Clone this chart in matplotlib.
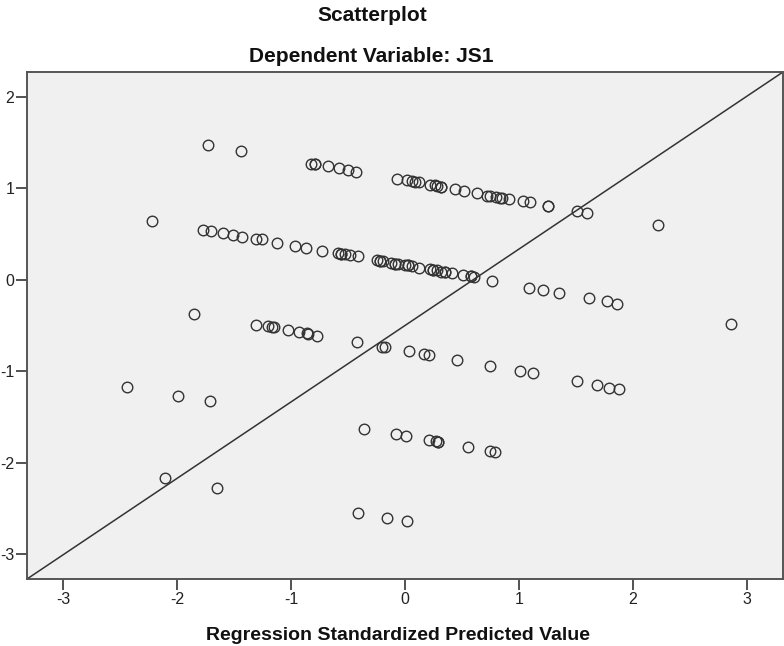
import matplotlib
matplotlib.use("Agg")
import matplotlib.pyplot as plt

# -----------------------------
# Data read off the SPSS scatterplot
# -----------------------------
# top band (around +1.0 .. +1.5)
band1_x = [-1.73, -1.44, -0.83, -0.79, -0.79, -0.68, -0.58, -0.50, -0.43,
           -0.07, 0.015, 0.06, 0.09, 0.125, 0.22, 0.26, 0.28, 0.32, 0.32,
           0.44, 0.52, 0.63, 0.72, 0.75, 0.80, 0.83, 0.85, 0.915, 1.04,
           1.10, 1.26, 1.26, 1.51, 1.60]
band1_y = [1.47, 1.41, 1.27, 1.26, 1.26, 1.24, 1.22, 1.20, 1.18,
           1.10, 1.085, 1.08, 1.07, 1.065, 1.04, 1.03, 1.025, 1.01, 1.01,
           0.99, 0.97, 0.95, 0.92, 0.92, 0.90, 0.895, 0.89, 0.885, 0.86,
           0.85, 0.81, 0.81, 0.75, 0.73]

# second band (around 0 .. +0.65)
band2_x = [-2.22, -1.77, -1.70, -1.60, -1.51, -1.43, -1.31, -1.26, -1.12,
           -0.97, -0.87, -0.73, -0.59, -0.56, -0.56, -0.53, -0.48, -0.41,
           -0.25, -0.22, -0.22, -0.19, -0.12, -0.09, -0.09, -0.06, 0.00,
           0.03, 0.03, 0.06, 0.12, 0.22, 0.25, 0.25, 0.28, 0.32, 0.35, 0.35,
           0.41, 0.51, 0.58, 0.58, 0.61, 0.76, 1.09, 1.21, 1.35, 1.62, 1.77,
           1.86, 2.22, 2.86]
band2_y = [0.645, 0.546, 0.536, 0.510, 0.492, 0.466, 0.448, 0.440, 0.401,
           0.372, 0.347, 0.317, 0.292, 0.284, 0.284, 0.281, 0.273, 0.254,
           0.211, 0.204, 0.204, 0.200, 0.182, 0.175, 0.175, 0.171, 0.164,
           0.156, 0.156, 0.153, 0.128, 0.117, 0.109, 0.109, 0.101, 0.090,
           0.083, 0.083, 0.072, 0.054, 0.036, 0.036, 0.029, -0.018, -0.09,
           -0.11, -0.14, -0.20, -0.23, -0.26, 0.594, -0.48]

# third band (around -0.4 .. -1.35)
band3_x = [-1.85, -1.31, -1.20, -1.17, -1.15, -1.03, -0.93, -0.86, -0.85,
           -0.77, -0.42, -0.20, -0.18, 0.035, 0.17, 0.21, 0.46, 0.75, 1.01,
           1.12, 1.51, 1.69, 1.79, 1.88, -2.44, -1.99, -1.71]
band3_y = [-0.37, -0.49, -0.51, -0.52, -0.52, -0.55, -0.57, -0.58, -0.59,
           -0.61, -0.685, -0.73, -0.73, -0.78, -0.81, -0.82, -0.88, -0.94,
           -1.00, -1.02, -1.11, -1.15, -1.18, -1.19, -1.17, -1.27, -1.33]

# lower bands (around -1.6 .. -2.65)
band4_x = [-0.36, -0.08, 0.006, 0.21, 0.27, 0.29, 0.29, 0.55, 0.75, 0.79,
           -2.11, -1.65, -0.41, -0.16, 0.02]
band4_y = [-1.63, -1.69, -1.71, -1.75, -1.76, -1.77, -1.77, -1.83, -1.87,
           -1.88, -2.17, -2.28, -2.55, -2.60, -2.64]

x_ticks = [-3, -2, -1, 0, 1, 2, 3]
y_ticks = [-3, -2, -1, 0, 1, 2]
X_LIM = (-3.32, 3.32)
Y_LIM = (-3.27, 2.27)

# -----------------------------
# Figure
# -----------------------------
plt.rcParams["font.family"] = ["Liberation Sans", "DejaVu Sans"]
plt.rcParams["axes.unicode_minus"] = False

DARK = "#333333"

fig = plt.figure(figsize=(7.84, 6.46), dpi=100)
ax = fig.add_axes([27 / 784, 1 - 579 / 646, 756 / 784, 507 / 646])
ax.set_facecolor("#f0f0f0")

all_x = band1_x + band2_x + band3_x + band4_x
all_y = band1_y + band2_y + band3_y + band4_y
ax.plot(all_x, all_y, linestyle="none", marker="o", markersize=7.6,
        markerfacecolor="none", markeredgecolor=DARK, markeredgewidth=1.0,
        zorder=3)

# corner-to-corner reference line
ax.plot(X_LIM, Y_LIM, color=DARK, linewidth=1.1, zorder=2)

ax.set_xlim(*X_LIM)
ax.set_ylim(*Y_LIM)
ax.set_xticks(x_ticks)
ax.set_yticks(y_ticks)
ax.tick_params(direction="out", length=8, width=1.3, color="#444444",
               labelsize=11.5, pad=1, labelcolor="#222222")
for s in ax.spines.values():
    s.set_color("#555555")
    s.set_linewidth(1.4)

fig.text(372 / 784, 1 - 21 / 646, "Scatterplot", ha="center", va="baseline",
         fontsize=15, fontweight="bold", color="#111111")
fig.text(371 / 784, 1 - 62 / 646, "Dependent Variable: JS1", ha="center",
         va="baseline", fontsize=15, fontweight="bold", color="#111111")
fig.text(398 / 784, 1 - 640 / 646, "Regression Standardized Predicted Value",
         ha="center", va="baseline", fontsize=14, fontweight="bold",
         color="#111111")

fig.savefig("out.png", dpi=100)
plt.close(fig)
